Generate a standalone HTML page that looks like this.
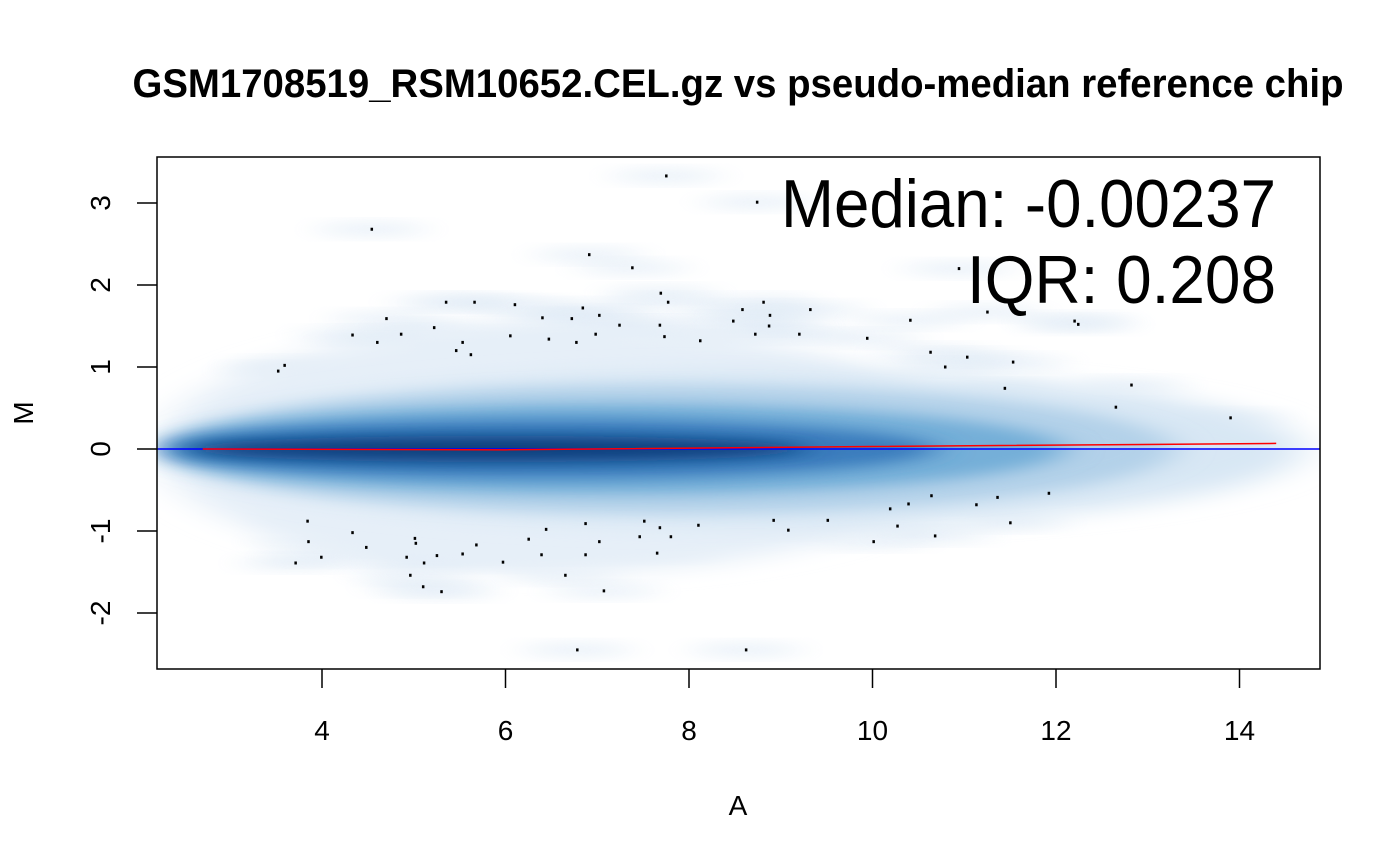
<!DOCTYPE html>
<html><head><meta charset="utf-8"><style>
html,body{margin:0;padding:0;background:#fff;}
svg{display:block;font-family:"Liberation Sans",Arial,sans-serif;}
</style></head><body>
<svg id="chart" width="1400" height="865" viewBox="0 0 1400 865">
<defs>
<filter id="blur1" x="-20%" y="-50%" width="140%" height="200%"><feGaussianBlur stdDeviation="18 7"/></filter>
<filter id="blur2" x="-20%" y="-50%" width="140%" height="200%"><feGaussianBlur stdDeviation="22 10"/></filter>
<clipPath id="clip"><rect x="157" y="157" width="1163" height="512"/></clipPath>
</defs>
<text x="738" y="97" text-anchor="middle" font-size="40" font-weight="bold" textLength="1211" lengthAdjust="spacingAndGlyphs">GSM1708519_RSM10652.CEL.gz vs pseudo-median reference chip</text>
<g id="density" clip-path="url(#clip)"></g>
<g id="points"></g>
<g id="lines" clip-path="url(#clip)"></g>
<rect x="157" y="157" width="1163" height="512" fill="none" stroke="#000" stroke-width="1.5"/>
<g id="xaxis"></g>
<g id="yaxis"></g>
<text x="738" y="815" text-anchor="middle" font-size="28">A</text>
<text x="0" y="0" transform="translate(33,413) rotate(-90)" text-anchor="middle" font-size="28">M</text>
<text x="1276" y="227" text-anchor="end" font-size="68" textLength="495" lengthAdjust="spacingAndGlyphs">Median: -0.00237</text>
<text x="1276" y="303" text-anchor="end" font-size="68" textLength="309" lengthAdjust="spacingAndGlyphs">IQR: 0.208</text>
</svg>
<script>
const xTicks=[4,6,8,10,12,14];
const yTicks=[-2,-1,0,1,2,3];
const ptA=[7.75,8.74,4.54,6.91,7.38,10.94,7.69,5.66,7.77,5.35,6.10,6.84,7.02,3.52,3.59,4.33,4.70,4.86,4.60,5.22,5.53,5.46,5.62,6.05,6.40,6.47,6.72,6.77,6.98,7.24,7.68,7.73,8.12,8.48,8.58,8.72,8.81,8.87,8.88,9.20,9.32,9.94,10.41,10.63,10.79,11.03,11.53,11.44,12.20,12.24,12.65,12.82,13.90,11.25,
3.84,3.85,3.71,3.99,4.33,4.48,4.92,5.02,5.01,4.96,5.11,5.10,5.30,5.25,5.53,5.68,5.97,6.25,6.39,6.44,6.65,6.87,6.87,7.02,7.07,7.46,7.51,7.65,7.68,7.80,8.10,8.62,6.78,8.92,9.08,9.51,10.01,10.19,10.27,10.39,10.64,10.68,11.13,11.36,11.50,11.92];
const ptM=[3.33,3.01,2.68,2.37,2.21,2.20,1.90,1.79,1.79,1.79,1.76,1.72,1.63,0.95,1.02,1.39,1.59,1.40,1.30,1.48,1.30,1.20,1.15,1.38,1.60,1.34,1.59,1.30,1.40,1.51,1.51,1.37,1.32,1.56,1.70,1.40,1.79,1.50,1.63,1.40,1.70,1.35,1.57,1.18,1.00,1.12,1.06,0.74,1.56,1.52,0.51,0.78,0.38,1.67,
-0.88,-1.13,-1.39,-1.32,-1.02,-1.20,-1.32,-1.15,-1.09,-1.54,-1.39,-1.68,-1.74,-1.30,-1.28,-1.17,-1.38,-1.10,-1.29,-0.98,-1.54,-0.91,-1.29,-1.13,-1.73,-1.07,-0.88,-1.27,-0.96,-1.07,-0.93,-2.45,-2.45,-0.87,-0.99,-0.87,-1.13,-0.73,-0.94,-0.67,-0.57,-1.06,-0.68,-0.59,-0.90,-0.54];
// density layers: centerA, halfWidthA, halfHeightM, color
const bandCenterA=[6.6,8.6,7.8,7.2,6.5,5.9];
const bandHalfA=[4.4,6.1,5.5,4.9,4.2,3.4];
const bandHalfM=[1.5,0.95,0.78,0.55,0.36,0.16];
const bandColor=['#e6eff8','#d8e7f4','#b3d1e9','#74afd8','#3a7dbd','#0f407f'];
const loessA=[2.7,6,10,14.4];
const loessM=[0.0,-0.01,0.03,0.068];

const X=a=>322+(a-4)*91.75;
const Y=m=>449-m*82;
const NS='http://www.w3.org/2000/svg';
function mk(tag,attrs,parent){const e=document.createElementNS(NS,tag);for(const k in attrs)e.setAttribute(k,attrs[k]);parent.appendChild(e);return e;}
const dg=document.getElementById('density');
for(let i=0;i<ptA.length;i++){
  const e=mk('ellipse',{cx:X(ptA[i]),cy:Y(ptM[i]),rx:55,ry:6,fill:'#dde9f5',opacity:0.7,filter:'url(#blur1)'},dg);
  
  
}
for(let i=0;i<bandCenterA.length;i++){
  const e=mk('ellipse',{cx:X(bandCenterA[i]),cy:Y(0),rx:bandHalfA[i]*91.75,ry:bandHalfM[i]*82,fill:bandColor[i],filter:i<2?'url(#blur2)':'url(#blur1)'},dg);
  
  
}
const pg=document.getElementById('points');
for(let i=0;i<ptA.length;i++){
  const e=mk('rect',{x:X(ptA[i])-1,y:Y(ptM[i])-1.5,width:2.5,height:3,fill:'#000'},pg);
  
  
}
const lg=document.getElementById('lines');
const bl=mk('line',{x1:157,x2:1320,y1:Y(0),y2:Y(0),stroke:'#0000ff','stroke-width':1.5},lg);


const lp=mk('polyline',{points:loessA.map((a,i)=>X(a)+','+Y(loessM[i])).join(' '),fill:'none',stroke:'#ff0000','stroke-width':1.5},lg);


const xg=document.getElementById('xaxis');
xTicks.forEach(t=>{
  const l=mk('line',{x1:X(t),x2:X(t),y1:669,y2:688,stroke:'#000','stroke-width':1.5},xg);
  
  
  const tx=mk('text',{x:X(t),y:740,'text-anchor':'middle','font-size':28},xg);tx.textContent=t;
  
  
});
const yg=document.getElementById('yaxis');
yTicks.forEach(t=>{
  const l=mk('line',{x1:137,x2:157,y1:Y(t),y2:Y(t),stroke:'#000','stroke-width':1.5},yg);
  
  
  const tx=mk('text',{x:0,y:0,transform:`translate(110,${Y(t)}) rotate(-90)`,'text-anchor':'middle','font-size':28},yg);tx.textContent=t;
  
  
});
</script>
</body></html>
